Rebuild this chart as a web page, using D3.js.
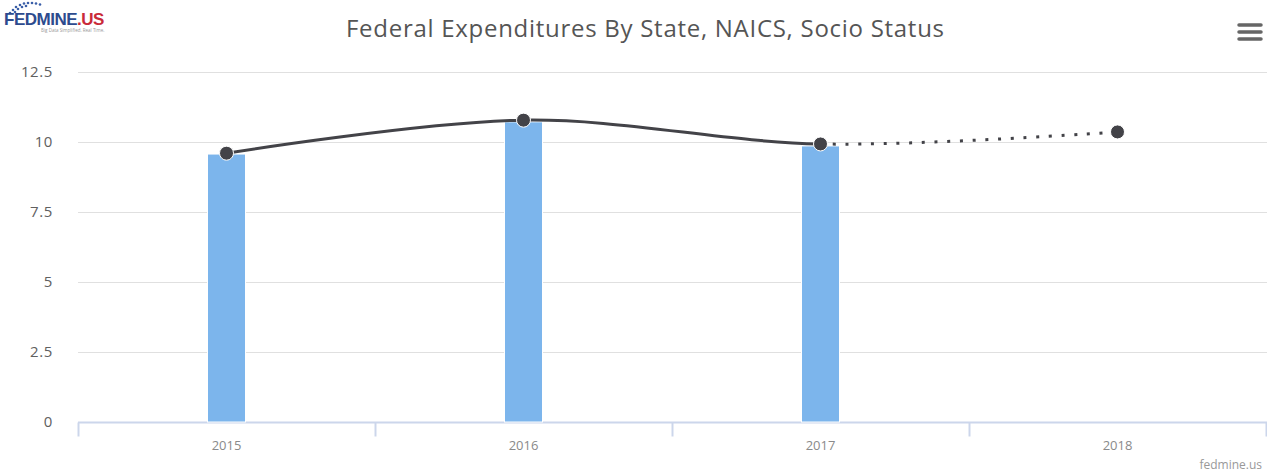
<!DOCTYPE html>
<html>
<head>
<meta charset="utf-8">
<script src="https://cdn.jsdelivr.net/npm/d3@7"></script>
<style>
  body { margin: 0; background: #fff; }
  svg { display: block; font-family: "Open Sans", "Liberation Sans", sans-serif; }
</style>
</head>
<body>
<svg id="chart" width="1267" height="474"></svg>
<script>
var years = ['2015', '2016', '2017', '2018'];
var barValues = [9.57, 10.72, 9.86, 0];
var lineValues = [9.6, 10.78, 9.93, 10.36];
var yTicks = [0, 2.5, 5, 7.5, 10, 12.5];
var forecastFrom = '2017';

var width = 1267, height = 474;
var plotLeft = 78, plotRight = 1266, plotTop = 72, plotBottom = 422;

var svg = d3.select('#chart');

var x = d3.scaleBand().domain(years).range([plotLeft, plotRight]);
var y = d3.scaleLinear().domain([0, 12.5]).range([plotBottom, plotTop]);

// gridlines
svg.append('g').selectAll('line').data(yTicks.slice(1)).join('line')
    .attr('x1', plotLeft).attr('x2', width)
    .attr('y1', function (d) { return y(d) + 0.5; })
    .attr('y2', function (d) { return y(d) + 0.5; })
    .attr('stroke', '#e0e0e0').attr('stroke-width', 1);

// y labels
svg.append('g').selectAll('text').data(yTicks).join('text')
    .attr('x', 53).attr('y', function (d) { return y(d) + 5; })
    .attr('text-anchor', 'end').attr('font-size', 15).attr('fill', '#606060')
    .attr('letter-spacing', 0.6)
    .text(function (d) { return d; });

// x axis
var xAxis = svg.append('g').attr('transform', 'translate(0,' + (plotBottom + 0.5) + ')')
    .call(d3.axisBottom(x).tickSize(0).tickPadding(18));
xAxis.select('.domain').remove();
xAxis.selectAll('text').attr('font-size', 13).attr('fill', '#8a8a8a')
    .attr('font-family', '"Open Sans", "Liberation Sans", sans-serif');
xAxis.append('line').attr('x1', plotLeft).attr('x2', width).attr('stroke', '#ccd6eb').attr('stroke-width', 2);
xAxis.selectAll('.band-tick').data(years.concat(['end'])).join('line')
    .attr('x1', function (d, i) { return plotLeft + i * x.step() + 0.5; })
    .attr('x2', function (d, i) { return plotLeft + i * x.step() + 0.5; })
    .attr('y1', 0).attr('y2', 14)
    .attr('stroke', '#ccd6eb').attr('stroke-width', 2);

// bars
var barW = 38;
svg.append('g').selectAll('rect').data(barValues).join('rect')
    .attr('x', function (d, i) { return x(years[i]) + x.bandwidth() / 2 - barW / 2; })
    .attr('y', function (d) { return y(d); })
    .attr('width', barW)
    .attr('height', function (d) { return plotBottom - y(d); })
    .attr('fill', '#7cb5ec').attr('stroke', '#fff').attr('stroke-width', 1);

// spline
var pts = lineValues.map(function (v, i) { return [x(years[i]) + x.bandwidth() / 2, y(v)]; });
var line = d3.line().curve(d3.curveCatmullRom.alpha(0.5));
var splitX = x(forecastFrom) + x.bandwidth() / 2;

var defs = svg.append('defs');
defs.append('clipPath').attr('id', 'solid').append('rect')
    .attr('x', 0).attr('y', 0).attr('width', splitX).attr('height', height);
defs.append('clipPath').attr('id', 'dotted').append('rect')
    .attr('x', splitX).attr('y', 0).attr('width', width - splitX).attr('height', height);

svg.append('path').attr('d', line(pts)).attr('fill', 'none')
    .attr('stroke', '#434348').attr('stroke-width', 3).attr('clip-path', 'url(#solid)');
svg.append('path').attr('d', line(pts)).attr('fill', 'none')
    .attr('stroke', '#434348').attr('stroke-width', 3).attr('stroke-dasharray', '3,9.7')
    .attr('clip-path', 'url(#dotted)');

svg.append('g').selectAll('circle').data(pts).join('circle')
    .attr('cx', function (d) { return d[0]; }).attr('cy', function (d) { return d[1]; })
    .attr('r', 7).attr('fill', '#434348').attr('stroke', '#fff').attr('stroke-width', 1);

// title
svg.append('text').attr('x', 645).attr('y', 37).attr('text-anchor', 'middle')
    .attr('font-size', 24).attr('fill', '#555').attr('textLength', 598)
    .text('Federal Expenditures By State, NAICS, Socio Status');

// menu
svg.append('g').selectAll('line').data([0, 1, 2]).join('line')
    .attr('x1', 1239).attr('x2', 1261)
    .attr('y1', function (d) { return 25 + d * 7; })
    .attr('y2', function (d) { return 25 + d * 7; })
    .attr('stroke', '#666').attr('stroke-width', 3.5).attr('stroke-linecap', 'round');

// credits
svg.append('text').attr('x', 1262).attr('y', 469).attr('text-anchor', 'end')
    .attr('font-size', 12).attr('fill', '#999').text('fedmine.us');

// logo
var logo = svg.append('g');
var dots = [[16, 5], [20, 3], [24, 1.5], [28, 1], [32, 1], [36, 1.5], [40, 2.5],
            [13, 8], [18, 7], [22, 5], [10, 11], [15, 10], [26, 4]];
logo.selectAll('circle').data(dots).join('circle')
    .attr('cx', function (d) { return d[0]; }).attr('cy', function (d) { return d[1] + 2; })
    .attr('r', 1.3).attr('fill', '#3a5ea8');
var lt = logo.append('text').attr('x', 4).attr('y', 25).attr('font-size', 17)
    .attr('font-weight', 'bold').attr('font-family', '"Liberation Sans Narrow", "Liberation Sans", sans-serif')
    .attr('letter-spacing', -0.5);
lt.append('tspan').attr('fill', '#2d4b8e').text('FEDMINE');
lt.append('tspan').attr('fill', '#c92a39').text('.US');
logo.append('text').attr('x', 41).attr('y', 32).attr('font-size', 4.5).attr('fill', '#999')
    .text('Big Data Simplified. Real Time.');
</script>
</body>
</html>
